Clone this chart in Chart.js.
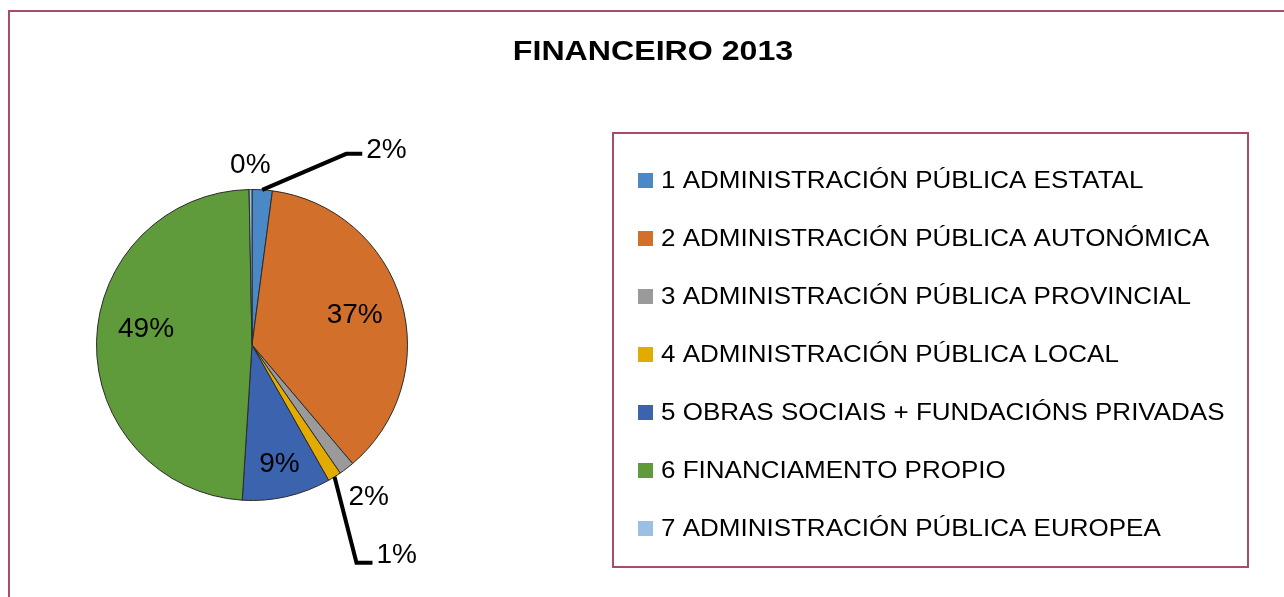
<!DOCTYPE html>
<html>
<head>
<meta charset="utf-8">
<script src="https://cdn.jsdelivr.net/npm/chart.js@4"></script>
<style>
  body { margin: 0; background: #fff; }
  canvas { display: block; }
</style>
</head>
<body>
<canvas id="pieChart" width="1284" height="597"></canvas>
<script>
const categories = [
    '1 ADMINISTRACIÓN PÚBLICA ESTATAL',
    '2 ADMINISTRACIÓN PÚBLICA AUTONÓMICA',
    '3 ADMINISTRACIÓN PÚBLICA PROVINCIAL',
    '4 ADMINISTRACIÓN PÚBLICA LOCAL',
    '5 OBRAS SOCIAIS + FUNDACIÓNS PRIVADAS',
    '6 FINANCIAMENTO PROPIO',
    '7 ADMINISTRACIÓN PÚBLICA EUROPEA'];
const shares = [2.1, 36.7, 1.6, 1.4, 9.2, 48.7, 0.3];
const sliceLabels = ['2%', '37%', '2%', '1%', '9%', '49%', '0%'];
const sliceColors = ['#4A89C6', '#D2702B', '#9A9A9A', '#E3AA00', '#3C63AE', '#5F9A3B', '#9BC0E4'];
const chartTitle = 'FINANCEIRO 2013';

const FRAME = '#A84D68';
const FONT = '"Liberation Sans", Arial, sans-serif';

// how each data label sits: r = distance from centre, leader = elbow offset from arc edge
const labelPlacement = [
    { leader: [84, -36], tail: 16, textDy: -4 },
    { r: 107 },
    { r: 192 },
    { leader: [22, 86], tail: 16, textDy: -8 },
    { r: 122 },
    { r: 106, dy: -13 },
    { r: 180 }
];

const framePlugin = {
    id: 'frame',
    beforeDraw(chart) {
        const ctx = chart.ctx;
        ctx.save();
        ctx.fillStyle = '#fff';
        ctx.fillRect(0, 0, chart.width, chart.height);
        ctx.strokeStyle = FRAME;
        ctx.lineWidth = 2;
        ctx.strokeRect(9, 11, chart.width + 20, chart.height + 20);
        ctx.restore();
    },
    afterDraw(chart) {
        const ctx = chart.ctx;
        ctx.save();
        // title
        ctx.fillStyle = '#000';
        ctx.font = 'bold 27px ' + FONT;
        ctx.textBaseline = 'middle';
        ctx.textAlign = 'center';
        ctx.translate(653, 53);
        ctx.scale(1.19, 1);
        ctx.fillText(chartTitle, 0, 0);
        ctx.restore();

        // legend box
        ctx.save();
        ctx.strokeStyle = FRAME;
        ctx.lineWidth = 2;
        ctx.strokeRect(613, 133, 635, 434);
        ctx.font = '24px ' + FONT;
        ctx.textBaseline = 'middle';
        ctx.textAlign = 'left';
        chart.data.labels.forEach((name, i) => {
            const y = 180 + i * 58;
            ctx.fillStyle = sliceColors[i];
            ctx.fillRect(638, y - 7, 15, 15);
            ctx.fillStyle = '#000';
            ctx.save();
            ctx.translate(661, y + 1);
            ctx.scale(1.083, 1);
            ctx.fillText(name, 0, 0);
            ctx.restore();
        });
        ctx.restore();
    }
};

const labelPlugin = {
    id: 'sliceLabels',
    afterDatasetsDraw(chart) {
        const ctx = chart.ctx;
        const arcs = chart.getDatasetMeta(0).data;
        ctx.save();
        ctx.font = '28px ' + FONT;
        ctx.fillStyle = '#000';
        ctx.textBaseline = 'middle';
        arcs.forEach((arc, i) => {
            const p = labelPlacement[i];
            const mid = (arc.startAngle + arc.endAngle) / 2;
            const cos = Math.cos(mid), sin = Math.sin(mid);
            if (p.leader) {
                const ex = arc.x + cos * arc.outerRadius;
                const ey = arc.y + sin * arc.outerRadius;
                const bx = ex + p.leader[0];
                const by = ey + p.leader[1];
                ctx.strokeStyle = '#000';
                ctx.lineWidth = 4;
                ctx.beginPath();
                ctx.moveTo(ex, ey);
                ctx.lineTo(bx, by);
                ctx.lineTo(bx + p.tail, by);
                ctx.stroke();
                ctx.textAlign = 'left';
                ctx.fillText(sliceLabels[i], bx + p.tail + 4, by + p.textDy);
            } else {
                ctx.textAlign = 'center';
                ctx.fillText(sliceLabels[i], arc.x + cos * p.r, arc.y + sin * p.r + (p.dy || 0));
            }
        });
        ctx.restore();
    }
};

document.addEventListener('DOMContentLoaded', function() {
    const pieChart = new Chart(document.getElementById('pieChart').getContext('2d'), {
        type: 'pie',
        data: {
            labels: categories,
            datasets: [{
                data: shares,
                backgroundColor: sliceColors,
                borderColor: '#2b2b2b',
                borderWidth: 1
            }]
        },
        options: {
            responsive: false,
            animation: false,
            devicePixelRatio: 1,
            layout: {
                padding: { left: 96, right: 876, top: 189, bottom: 96 }
            },
            plugins: {
                legend: false,
                title: false,
                tooltip: { enabled: false }
            }
        },
        plugins: [framePlugin, labelPlugin]
    });
});
</script>
</body>
</html>
